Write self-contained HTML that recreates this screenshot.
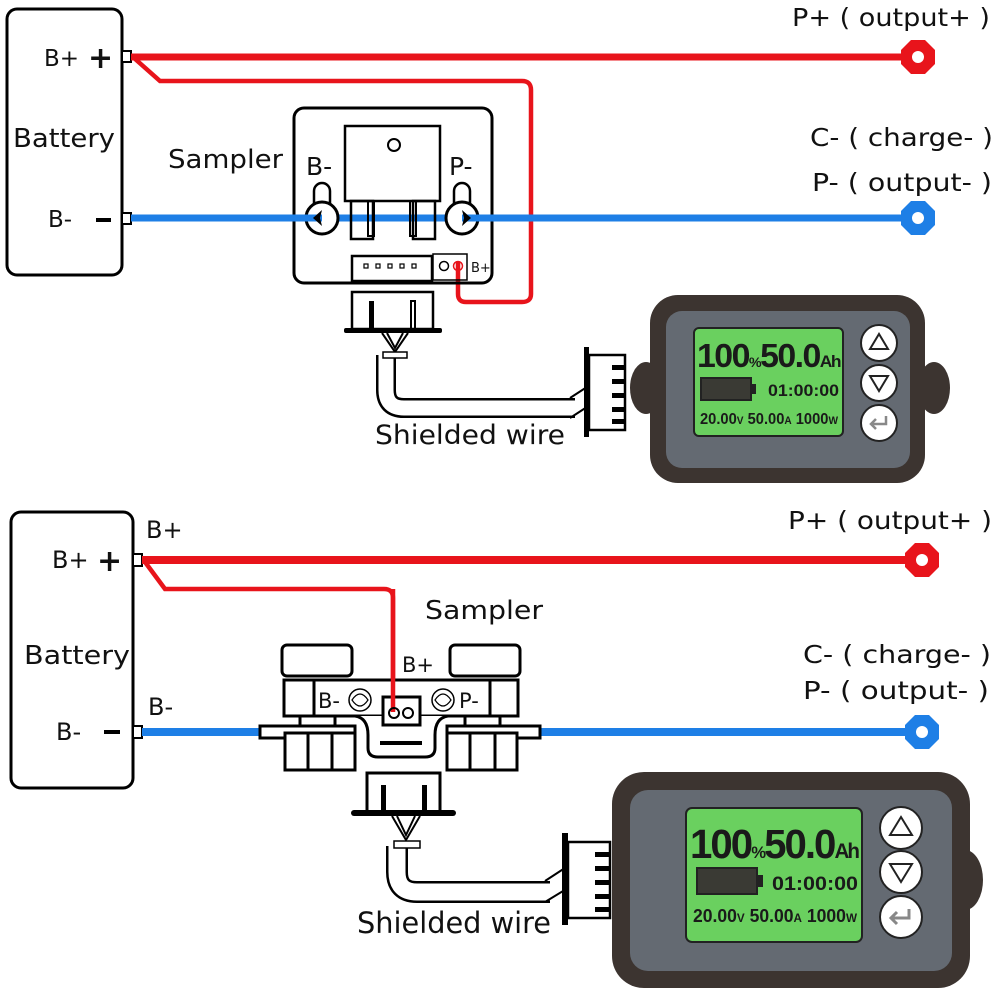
<!DOCTYPE html>
<html><head><meta charset="utf-8"><style>
html,body{margin:0;padding:0;background:#fff;}
svg{display:block;}
text{font-family:"DejaVu Sans","Liberation Sans",sans-serif;fill:#111;}
.b{font-family:"Liberation Sans",sans-serif;font-weight:bold;fill:#1a1a1a;}
</style></head><body>
<svg width="1000" height="1000" viewBox="0 0 1000 1000" xmlns="http://www.w3.org/2000/svg">
<defs>
<g id="oct"><polygon points="-7,-17 7,-17 17,-7 17,7 7,17 -7,17 -17,7 -17,-7"/></g>
</defs>

<!-- ============ TOP ============ -->
<rect x="7" y="9" width="115" height="266" rx="10" fill="none" stroke="#000" stroke-width="3"/>
<text x="44" y="66" font-size="23">B+</text>
<text x="88" y="68" font-size="30" font-weight="bold">+</text>
<text x="13" y="147" font-size="26" textLength="102" lengthAdjust="spacingAndGlyphs">Battery</text>
<text x="48" y="227" font-size="23">B-</text>
<rect x="96" y="218" width="15" height="4" fill="#000"/>
<rect x="122" y="51" width="9" height="11" fill="#fff" stroke="#000" stroke-width="2"/>
<rect x="122" y="213" width="9" height="11" fill="#fff" stroke="#000" stroke-width="2"/>

<line x1="131" y1="57" x2="905" y2="57" stroke="#e8141b" stroke-width="7"/>
<path d="M134,58 L160,81 L522,81 Q531,81 531,90 L531,294 Q531,302 522,302 L466,302 Q458,302 458,294 L458,262" fill="none" stroke="#e8141b" stroke-width="4.5"/>
<g fill="#e8141b" transform="translate(918,57)"><use href="#oct"/><circle r="6" fill="#fff"/></g>

<line x1="131" y1="218" x2="905" y2="218" stroke="#1e7fe6" stroke-width="7"/>
<g fill="#1e7fe6" transform="translate(918,218)"><use href="#oct"/><circle r="6" fill="#fff"/></g>

<text x="792" y="26" font-size="25" textLength="198" lengthAdjust="spacingAndGlyphs">P+ ( output+ )</text>
<text x="810" y="146" font-size="25" textLength="183" lengthAdjust="spacingAndGlyphs">C- ( charge- )</text>
<text x="812" y="191" font-size="25" textLength="180" lengthAdjust="spacingAndGlyphs">P- ( output- )</text>

<text x="168" y="168" font-size="26" textLength="115" lengthAdjust="spacingAndGlyphs">Sampler</text>
<rect x="294" y="108" width="198" height="175" rx="10" fill="none" stroke="#000" stroke-width="3"/>
<rect x="345" y="126" width="95" height="75" fill="#fff" stroke="#000" stroke-width="2.5"/>
<circle cx="394" cy="145" r="6" fill="none" stroke="#000" stroke-width="2"/>
<path d="M368,201 v35 h6 v-35 M410,201 v35 h6 v-35" fill="none" stroke="#000" stroke-width="2"/>
<rect x="351" y="201" width="22" height="38" fill="none" stroke="#000" stroke-width="2.5"/>
<rect x="413" y="201" width="22" height="38" fill="none" stroke="#000" stroke-width="2.5"/>
<text x="306" y="175" font-size="25">B-</text>
<text x="449" y="175" font-size="25">P-</text>
<rect x="314" y="183" width="16" height="30" rx="8" fill="#fff" stroke="#000" stroke-width="2.5"/>
<rect x="454" y="183" width="16" height="30" rx="8" fill="#fff" stroke="#000" stroke-width="2.5"/>
<circle cx="322" cy="218" r="16" fill="#fff" stroke="#000" stroke-width="3"/>
<circle cx="462" cy="218" r="16" fill="#fff" stroke="#000" stroke-width="3"/>
<line x1="131" y1="218" x2="322" y2="218" stroke="#1e7fe6" stroke-width="7"/>
<line x1="462" y1="218" x2="905" y2="218" stroke="#1e7fe6" stroke-width="7"/>
<path d="M313,218 l9,-8 l-2,8 l2,8z M471,218 l-9,-8 l2,8 l-2,8z" fill="#000"/>
<rect x="352" y="256" width="80" height="25" fill="none" stroke="#000" stroke-width="2.5"/>
<g fill="none" stroke="#000" stroke-width="1.2"><rect x="364" y="264" width="4" height="4"/><rect x="376" y="264" width="4" height="4"/><rect x="388" y="264" width="4" height="4"/><rect x="400" y="264" width="4" height="4"/><rect x="412" y="264" width="4" height="4"/></g>
<rect x="433" y="254" width="34" height="26" fill="none" stroke="#000" stroke-width="1.5"/>
<circle cx="444" cy="266" r="4.5" fill="none" stroke="#000" stroke-width="1.5"/>
<circle cx="458" cy="266" r="4.5" fill="none" stroke="#e8141b" stroke-width="1.5"/>
<text x="471" y="272" font-size="13">B+</text>
<rect x="352" y="292" width="81" height="37" fill="#fff" stroke="#000" stroke-width="2.5"/>
<rect x="369" y="301" width="5" height="28" fill="#000"/>
<rect x="411" y="301" width="4" height="28" fill="none" stroke="#000" stroke-width="2"/>
<rect x="344" y="328" width="98" height="5" rx="2" fill="#000"/>
<path d="M382,333 L395,352 L408,333 M387,333 L395,348 L403,333" fill="none" stroke="#000" stroke-width="2"/>
<path d="M386,355 V390 Q386,408 404,408 H575" fill="none" stroke="#000" stroke-width="20"/>
<path d="M386,355 V390 Q386,408 404,408 H575" fill="none" stroke="#fff" stroke-width="15"/>
<rect x="383" y="352" width="24" height="6" fill="#fff" stroke="#000" stroke-width="1.5"/>
<path d="M570,398 L590,385 M570,418 L590,405" stroke="#000" stroke-width="2"/>
<rect x="584" y="347" width="5" height="90" fill="#000"/>
<rect x="589" y="355" width="36" height="75" fill="#fff" stroke="#000" stroke-width="2.5"/>
<g fill="#000"><rect x="612" y="365" width="13" height="5"/><rect x="612" y="379" width="13" height="5"/><rect x="612" y="393" width="13" height="5"/><rect x="612" y="407" width="13" height="5"/><rect x="612" y="419" width="13" height="5"/></g>
<text x="375" y="444" font-size="27" textLength="190" lengthAdjust="spacingAndGlyphs">Shielded wire</text>

<ellipse cx="646" cy="388" rx="16" ry="26" fill="#3c3430"/>
<ellipse cx="934" cy="388" rx="16" ry="26" fill="#3c3430"/>
<rect x="650" y="295" width="275" height="188" rx="28" fill="#3c3430"/>
<rect x="666" y="311" width="244" height="157" rx="16" fill="#646a72"/>
<rect x="694" y="328" width="149" height="108" rx="5" fill="#6ad05f" stroke="#222" stroke-width="2"/>
<text class="b" x="697" y="367" font-size="33" letter-spacing="-1.5" textLength="143" lengthAdjust="spacingAndGlyphs">100<tspan font-size="14">%</tspan>50.0<tspan font-size="17">Ah</tspan></text>
<rect x="701" y="378" width="50" height="22" fill="#3a3a34" stroke="#222" stroke-width="2"/>
<rect x="752" y="384" width="4" height="10" fill="#222"/>
<text class="b" x="768" y="396" font-size="17" textLength="71" lengthAdjust="spacingAndGlyphs">01:00:00</text>
<text class="b" x="700" y="424" font-size="16" textLength="138" lengthAdjust="spacingAndGlyphs">20.00<tspan font-size="11">V</tspan> 50.00<tspan font-size="11">A</tspan> 1000<tspan font-size="11">W</tspan></text>
<g stroke="#222" stroke-width="2" fill="#fff">
<circle cx="879" cy="343" r="18"/><circle cx="879" cy="383" r="18"/><circle cx="879" cy="423" r="18"/></g>
<path d="M870,349 L879,334 L888,349Z M870,376 L888,376 L879,391Z" fill="none" stroke="#222" stroke-width="2"/>
<path d="M886,416 v8 h-14 m4,-5 l-5,5 l5,5" fill="none" stroke="#888" stroke-width="2.5"/>

<!-- ============ BOTTOM ============ -->
<rect x="11" y="512" width="122" height="276" rx="10" fill="none" stroke="#000" stroke-width="3"/>
<text x="52" y="568" font-size="24">B+</text>
<text x="97" y="571" font-size="30" font-weight="bold">+</text>
<text x="24" y="664" font-size="26" textLength="106" lengthAdjust="spacingAndGlyphs">Battery</text>
<text x="56" y="740" font-size="24">B-</text>
<rect x="104" y="730" width="16" height="4" fill="#000"/>
<rect x="133" y="554" width="9" height="12" fill="#fff" stroke="#000" stroke-width="2"/>
<rect x="133" y="726" width="9" height="12" fill="#fff" stroke="#000" stroke-width="2"/>
<text x="146" y="538" font-size="24">B+</text>
<text x="148" y="715" font-size="24">B-</text>

<line x1="142" y1="560" x2="908" y2="560" stroke="#e8141b" stroke-width="8"/>
<path d="M145,562 L165,589 L384,589 Q393,589 393,598 L393,712" fill="none" stroke="#e8141b" stroke-width="4.5"/>
<g fill="#e8141b" transform="translate(922,560)"><use href="#oct"/><circle r="6" fill="#fff"/></g>

<line x1="142" y1="732" x2="262" y2="732" stroke="#1e7fe6" stroke-width="8"/>
<line x1="538" y1="732" x2="908" y2="732" stroke="#1e7fe6" stroke-width="8"/>
<g fill="#1e7fe6" transform="translate(922,732)"><use href="#oct"/><circle r="6" fill="#fff"/></g>

<text x="788" y="529" font-size="25" textLength="204" lengthAdjust="spacingAndGlyphs">P+ ( output+ )</text>
<text x="803" y="663" font-size="25" textLength="188" lengthAdjust="spacingAndGlyphs">C- ( charge- )</text>
<text x="803" y="699" font-size="25" textLength="186" lengthAdjust="spacingAndGlyphs">P- ( output- )</text>
<text x="425" y="619" font-size="26" textLength="118" lengthAdjust="spacingAndGlyphs">Sampler</text>

<g fill="#fff" stroke="#000" stroke-width="3">
<rect x="282" y="645" width="70" height="31" rx="5"/>
<rect x="450" y="645" width="70" height="31" rx="5"/>
<rect x="284" y="680" width="234" height="36"/>
<rect x="284" y="680" width="30" height="36"/>
<rect x="490" y="680" width="28" height="36"/>
<rect x="260" y="726" width="95" height="12"/>
<rect x="447" y="726" width="93" height="12"/>
<rect x="285" y="733" width="70" height="37"/>
<rect x="447" y="733" width="70" height="37"/>
<path d="M355,716 Q368,718 368,735 V748 Q368,757 378,757 H425 Q435,757 435,748 V735 Q435,718 448,716"/>
<rect x="383" y="697" width="37" height="28"/>
</g>
<path d="M308,733 v37 M332,733 v37 M470,733 v37 M495,733 v37 M300,716 v10 M335,716 v10 M465,716 v10 M500,716 v10" stroke="#000" stroke-width="3"/>
<rect x="380" y="741" width="42" height="4" fill="#000"/>
<text x="402" y="672" font-size="21">B+</text>
<text x="318" y="708" font-size="21">B-</text>
<text x="459" y="708" font-size="21">P-</text>
<circle cx="360" cy="700" r="11" fill="#fff" stroke="#000" stroke-width="1.5"/>
<circle cx="443" cy="700" r="11" fill="#fff" stroke="#000" stroke-width="1.5"/>
<path d="M352,700 Q360,688 368,700 Q360,712 352,700Z M435,700 Q443,688 451,700 Q443,712 435,700Z" fill="none" stroke="#000" stroke-width="1.2"/>
<line x1="393" y1="589" x2="393" y2="712" stroke="#e8141b" stroke-width="4.5"/>
<circle cx="394" cy="713" r="5" fill="none" stroke="#000" stroke-width="2"/>
<circle cx="408" cy="713" r="5" fill="none" stroke="#000" stroke-width="2"/>
<rect x="367" y="773" width="73" height="40" fill="#fff" stroke="#000" stroke-width="3"/>
<rect x="381" y="785" width="5" height="28" fill="#000"/>
<rect x="422" y="785" width="5" height="28" fill="#000"/>
<rect x="351" y="810" width="105" height="6" rx="3" fill="#000"/>
<path d="M392,816 L406,840 L420,816 M397,816 L406,835 L415,816" fill="none" stroke="#000" stroke-width="2"/>
<path d="M397,846 V872 Q397,892 417,892 H550" fill="none" stroke="#000" stroke-width="22"/>
<path d="M397,846 V872 Q397,892 417,892 H550" fill="none" stroke="#fff" stroke-width="17"/>
<rect x="394" y="841" width="26" height="7" fill="#fff" stroke="#000" stroke-width="1.5"/>
<path d="M545,881 L568,866 M545,902 L568,888" stroke="#000" stroke-width="2"/>
<rect x="562" y="833" width="6" height="92" fill="#000"/>
<rect x="568" y="842" width="42" height="76" fill="#fff" stroke="#000" stroke-width="2.5"/>
<g fill="#000"><rect x="595" y="852" width="15" height="5"/><rect x="595" y="866" width="15" height="5"/><rect x="595" y="880" width="15" height="5"/><rect x="595" y="894" width="15" height="5"/><rect x="595" y="907" width="15" height="5"/></g>
<text x="357" y="933" font-size="29" textLength="194" lengthAdjust="spacingAndGlyphs">Shielded wire</text>

<ellipse cx="630" cy="880" rx="18" ry="30" fill="#3c3430"/>
<ellipse cx="965" cy="880" rx="18" ry="30" fill="#3c3430"/>
<rect x="612" y="772" width="358" height="216" rx="32" fill="#3c3430"/>
<rect x="630" y="790" width="322" height="181" rx="18" fill="#646a72"/>
<rect x="686" y="808" width="176" height="134" rx="6" fill="#6ad05f" stroke="#222" stroke-width="2"/>
<text class="b" x="690" y="858" font-size="41" letter-spacing="-2" textLength="168" lengthAdjust="spacingAndGlyphs">100<tspan font-size="17">%</tspan>50.0<tspan font-size="21">Ah</tspan></text>
<rect x="697" y="868" width="60" height="26" fill="#3a3a34" stroke="#222" stroke-width="2"/>
<rect x="758" y="875" width="5" height="12" fill="#222"/>
<text class="b" x="772" y="890" font-size="19" textLength="86" lengthAdjust="spacingAndGlyphs">01:00:00</text>
<text class="b" x="693" y="922" font-size="18" textLength="164" lengthAdjust="spacingAndGlyphs">20.00<tspan font-size="12">V</tspan> 50.00<tspan font-size="12">A</tspan> 1000<tspan font-size="12">W</tspan></text>
<g stroke="#222" stroke-width="2" fill="#fff">
<circle cx="901" cy="828" r="21"/><circle cx="901" cy="872" r="21"/><circle cx="901" cy="917" r="21"/></g>
<path d="M890,835 L901,817 L912,835Z M890,864 L912,864 L901,882Z" fill="none" stroke="#222" stroke-width="2"/>
<path d="M909,909 v9 h-17 m5,-6 l-6,6 l6,6" fill="none" stroke="#888" stroke-width="3"/>
</svg>
</body></html>
